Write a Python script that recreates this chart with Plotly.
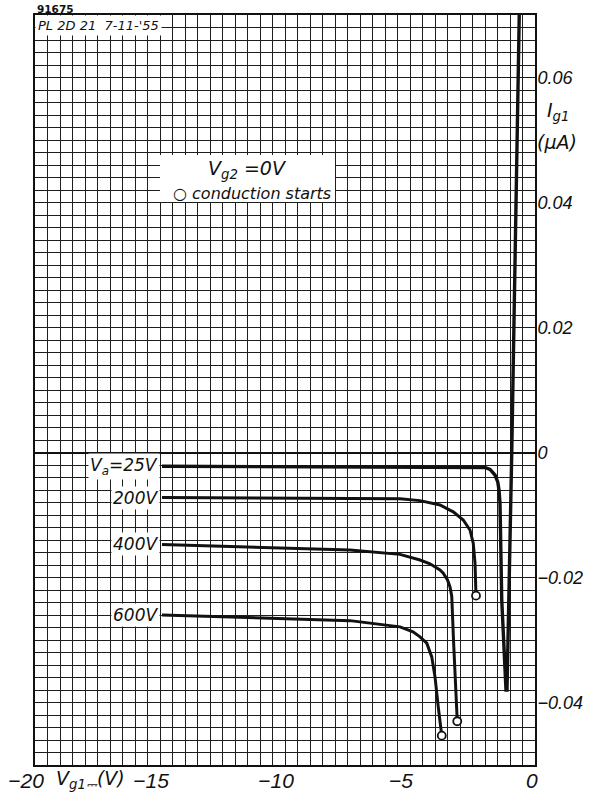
import plotly.graph_objects as go

# Grid current I_g1 versus negative grid voltage V_g1 for several anode voltages (V_g2 = 0 V)
curve_labels = ["V<sub>a</sub>=25V", "200V", "400V", "600V"]

# Va = 25 V: leakage plateau, sharp drop, then grid current rising through zero
v_25 = [-14.92, -10.0, -5.0, -2.0, -1.8, -1.6, -1.49, -1.44, -1.4, -1.33, -1.16, -1.12, -0.93, -0.63]
i_25 = [-0.0022, -0.0023, -0.0024, -0.0024, -0.0027, -0.0036, -0.0047, -0.006, -0.0081, -0.0236,
        -0.038, -0.038, 0.0, 0.07]

# Va = 200 V (last point: conduction starts)
v_200 = [-14.92, -10.0, -5.4, -4.6, -3.8, -3.27, -2.87, -2.6, -2.47, -2.4, -2.37, -2.36]
i_200 = [-0.0072, -0.0073, -0.0074, -0.0077, -0.0084, -0.0095, -0.0108, -0.0124, -0.0145, -0.0177,
         -0.0209, -0.0229]

# Va = 400 V
v_400 = [-14.92, -9.4, -7.4, -5.4, -4.6, -4.2, -3.8, -3.67, -3.5, -3.4, -3.33, -3.26, -3.11]
i_400 = [-0.0147, -0.0153, -0.0156, -0.0163, -0.0172, -0.0178, -0.0188, -0.0193, -0.0204, -0.0215,
         -0.0230, -0.0300, -0.0430]

# Va = 600 V
v_600 = [-14.92, -9.4, -7.4, -5.4, -4.88, -4.6, -4.33, -4.13, -4.0, -3.87, -3.77, -3.73]
i_600 = [-0.0260, -0.0266, -0.0269, -0.0279, -0.0287, -0.0295, -0.0305, -0.0327, -0.0359, -0.0407,
         -0.0444, -0.0453]

x_tick_vals = [-20, -15, -10, -5, 0]
x_tick_text = ["\u221220", "\u221215", "\u221210", "\u22125", "\u20070"]
y_tick_vals = [0.06, 0.04, 0.02, 0, -0.02, -0.04]
y_tick_text = ["0.06", "0.04", "0.02", "0", "\u22120.02", "\u22120.04"]

FONT = "DejaVu Sans"
NUM_FONT = "Liberation Sans"
INK = "#111111"
GRID = "#1e1e1e"

fig = go.Figure()

series = [(v_25, i_25), (v_200, i_200), (v_400, i_400), (v_600, i_600)]
for k, (vx, iy) in enumerate(series):
    fig.add_trace(go.Scatter(
        x=vx, y=iy, mode="lines",
        line=dict(color=INK, width=3.4 if k == 0 else 3),
        showlegend=False, hoverinfo="skip",
    ))

# open circles where conduction starts (end of each high-voltage curve)
for vx, iy in series[1:]:
    fig.add_trace(go.Scatter(
        x=[vx[-1]], y=[iy[-1]], mode="markers",
        marker=dict(symbol="circle", size=8, color="white", line=dict(color=INK, width=1.8)),
        showlegend=False, hoverinfo="skip",
    ))

# curve labels at the start of each curve
for lbl, (vx, iy) in zip(curve_labels, series):
    fig.add_annotation(
        x=vx[0] - 0.1, y=iy[0], xref="x", yref="y", text=lbl, showarrow=False,
        xanchor="right", yanchor="middle", bgcolor="white", borderpad=1,
        font=dict(family=FONT, size=17, color=INK, style="italic"),
    )

# white key panel
fig.add_shape(type="rect", xref="x", yref="y", x0=-15.0, x1=-8.0, y0=0.0401, y1=0.0476,
              fillcolor="white", line=dict(width=0), layer="above")
fig.add_annotation(
    x=-11.5, y=0.0453, xref="x", yref="y", showarrow=False, xanchor="center", yanchor="middle",
    text="V<sub>g2</sub> =0V", font=dict(family=FONT, size=19, color=INK, style="italic"),
)
fig.add_annotation(
    x=-14.55, y=0.0414, xref="x", yref="y", showarrow=False, xanchor="left", yanchor="middle",
    text="\u25CB conduction starts", font=dict(family=FONT, size=16, color=INK, style="italic"),
)

# header box top-left
fig.add_annotation(
    x=0.0, y=1.0, xref="paper", yref="paper", showarrow=False, xanchor="left", yanchor="top",
    text="PL 2D 21  7-11-'55", bgcolor="white", borderpad=2,
    font=dict(family=FONT, size=13, color=INK, style="italic"),
)
fig.add_annotation(
    x=0.0, y=1.0, xref="paper", yref="paper", showarrow=False, xanchor="left", yanchor="bottom",
    text="<b>91675</b>", yshift=-2,
    font=dict(family=FONT, size=10.5, color=INK),
)

# y-axis quantity label on the right
fig.add_annotation(
    x=1.0, y=0.0546, xref="paper", yref="y", showarrow=False, xanchor="left", yanchor="middle",
    text="I<sub>g1</sub>", xshift=10,
    font=dict(family=FONT, size=19, color=INK, style="italic"),
)
fig.add_annotation(
    x=1.0, y=0.0497, xref="paper", yref="y", showarrow=False, xanchor="left", yanchor="middle",
    text="(\u03bcA)", xshift=0,
    font=dict(family=FONT, size=19, color=INK, style="italic"),
)

# x-axis quantity label between -20 and -15
fig.add_annotation(
    x=-17.8, y=0, xref="x", yref="paper", showarrow=False, xanchor="center", yanchor="top",
    text="V<sub>g1\u2393</sub>(V)", yshift=0,
    font=dict(family=FONT, size=19, color=INK, style="italic"),
)

fig.update_xaxes(
    range=[-20, 0], tickvals=x_tick_vals, ticktext=x_tick_text, ticks="",
    showgrid=True, gridcolor=GRID, gridwidth=1.1,
    minor=dict(dtick=0.5, tick0=0, showgrid=True, gridcolor=GRID, gridwidth=1.1, ticks=""),
    zeroline=False, showline=True, mirror=True, linecolor=INK, linewidth=1.8,
    tickfont=dict(family=NUM_FONT, size=21, color=INK, style="italic"),
    ticklabelstandoff=-4, ticklabelshift=-9, automargin=False,
)
fig.update_yaxes(
    range=[-0.05, 0.07], side="right", tickvals=y_tick_vals, ticktext=y_tick_text, ticks="",
    showgrid=True, gridcolor=GRID, gridwidth=1.1,
    minor=dict(dtick=0.002, tick0=0, showgrid=True, gridcolor=GRID, gridwidth=1.1, ticks=""),
    zeroline=True, zerolinecolor=INK, zerolinewidth=1.8,
    showline=True, mirror=True, linecolor=INK, linewidth=1.8,
    tickfont=dict(family=NUM_FONT, size=18, color=INK, style="italic"),
    ticklabelstandoff=-3, automargin=False,
)

fig.update_layout(
    width=590, height=798,
    margin=dict(l=35, r=55, t=15, b=33, autoexpand=False),
    paper_bgcolor="white", plot_bgcolor="white",
    font=dict(family=FONT, color=INK),
)

fig.write_html("out.html")
